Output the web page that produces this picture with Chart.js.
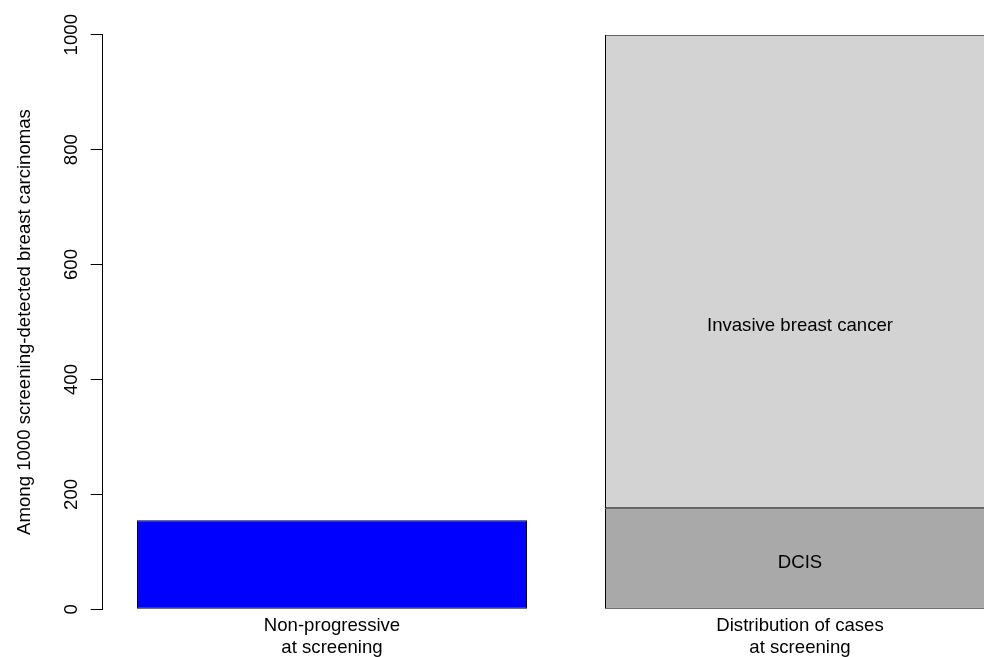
<!DOCTYPE html>
<html>
<head>
<meta charset="utf-8">
<title>Screening-detected breast carcinomas</title>
<script src="https://cdn.jsdelivr.net/npm/chart.js@4/dist/chart.umd.min.js"></script>
<style>
  html, body { margin: 0; padding: 0; background: #fff; overflow: hidden; }
  #wrap { width: 1040px; height: 657px; }
</style>
</head>
<body>
<div id="wrap"><canvas id="barChart" width="1040" height="657"></canvas></div>
<script>
// values
const categories = [
  ["Non-progressive", "at screening"],
  ["Distribution of cases", "at screening"],
];
const nonProgressive = [155, null];
const dcis = [null, 176];
const invasive = [null, 824];
const yTicks = [0, 200, 400, 600, 800, 1000];

// R barplot layout: width 1, space 0.2, xlim extended by 4%
const space = 0.2;
const mids = categories.map((c, i) => space + 0.5 + i * (1 + space));
const xLo = space;
const xHi = categories.length * (1 + space);
const xMin = xLo - 0.04 * (xHi - xLo);
const xMax = xHi + 0.04 * (xHi - xLo);

const toPoints = (arr) =>
  arr.map((v, i) => ({ x: mids[i], y: v })).filter((p) => p.y !== null);

const font = { family: "'Liberation Sans', Arial, sans-serif", size: 18.6 };
Chart.defaults.color = "#000";

// labels written inside the stacked bar
const innerLabels = {
  id: "innerLabels",
  afterDatasetsDraw(chart) {
    const { ctx, scales } = chart;
    const xp = scales.x.getPixelForValue(mids[1]);
    ctx.save();
    ctx.font = font.size + "px " + font.family;
    ctx.fillStyle = "#000";
    ctx.textAlign = "center";
    ctx.textBaseline = "alphabetic";
    ctx.fillText("DCIS", xp, scales.y.getPixelForValue(dcis[1] / 2) + 9);
    ctx.fillText("Invasive breast cancer", xp, scales.y.getPixelForValue(500) + 9);
    ctx.restore();
  },
};

const ctxBar = document.getElementById("barChart").getContext("2d");
new Chart(ctxBar, {
  type: "bar",
  data: {
    datasets: [
      {
        label: "Non-progressive",
        data: toPoints(nonProgressive),
        backgroundColor: "#0000FF",
      },
      {
        label: "DCIS",
        data: toPoints(dcis),
        backgroundColor: "#A9A9A9",
      },
      {
        label: "Invasive breast cancer",
        data: toPoints(invasive),
        backgroundColor: "#D3D3D3",
      },
    ],
  },
  options: {
    responsive: false,
    animation: false,
    layout: { padding: { top: 34.7, right: 10.7, left: 0, bottom: 0 } },
    datasets: {
      bar: {
        borderColor: "#000",
        borderWidth: 1,
        borderSkipped: false,
        categoryPercentage: 1,
        barPercentage: 1 / (1 + space),
      },
    },
    plugins: {
      legend: { display: false },
      tooltip: { enabled: false },
    },
    scales: {
      x: {
        type: "linear",
        stacked: true,
        offset: false,
        min: xMin,
        max: xMax,
        afterBuildTicks: (scale) => {
          scale.ticks = mids.map((v) => ({ value: v }));
        },
        afterFit: (scale) => {
          scale.height = 47.7;
        },
        grid: { display: false, drawTicks: false, offset: false },
        border: { display: false },
        ticks: {
          font: { ...font, lineHeight: 1.18 },
          padding: 5.5,
          maxRotation: 0,
          autoSkip: false,
          callback: (value, index) => categories[index],
        },
      },
      y: {
        stacked: true,
        min: 0,
        max: 1000,
        afterBuildTicks: (scale) => {
          scale.ticks = yTicks.map((v) => ({ value: v }));
        },
        afterFit: (scale) => {
          scale.width = 102.7;
        },
        grid: {
          drawOnChartArea: false,
          drawTicks: true,
          tickLength: 12,
          color: "#000",
        },
        border: { color: "#000", width: 1 },
        ticks: {
          font: font,
          minRotation: 90,
          maxRotation: 90,
          crossAlign: "center",
          padding: -2,
          autoSkip: false,
          callback: (value) => String(value),
        },
        title: {
          display: true,
          text: "Among 1000 screening-detected breast carcinomas",
          font: font,
          padding: { top: 14, bottom: 0 },
        },
      },
    },
  },
  plugins: [innerLabels],
});
</script>
</body>
</html>
